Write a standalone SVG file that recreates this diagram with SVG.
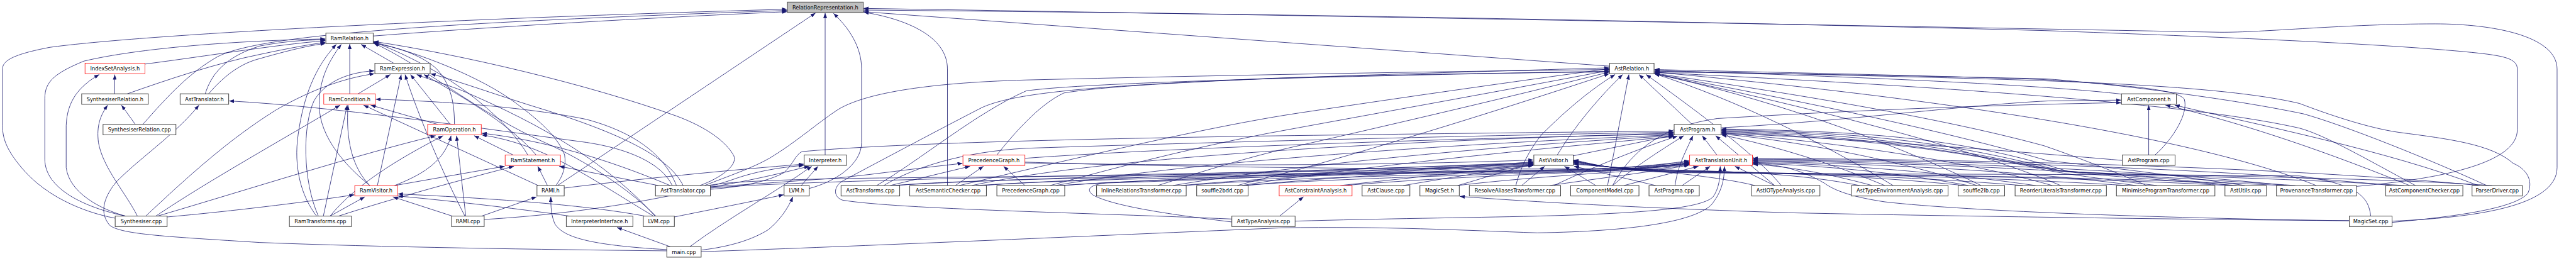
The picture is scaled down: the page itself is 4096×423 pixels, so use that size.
<svg xmlns="http://www.w3.org/2000/svg" width="4096" height="423" viewBox="0 0 4096 423">
<style>
.n rect{fill:#fff;stroke:#404040;stroke-width:1.5}
.n.r rect{stroke:#ff0000;stroke-width:1.2}
.n text{font-family:"DejaVu Sans","Liberation Sans",sans-serif;font-size:12.5px;text-anchor:middle;fill:#000}
#edges path{fill:none;stroke:#191970;stroke-width:1.2;marker-end:url(#a)}
</style>
<defs>
<marker id="a" viewBox="0 0 12 9" refX="12" refY="4.5" markerWidth="12" markerHeight="9" markerUnits="userSpaceOnUse" orient="auto"><path d="M0,0L12,4.5L0,9z" fill="#191970"/></marker>
</defs>
<rect x="0" y="0" width="4096" height="423" fill="#fff"/>
<g transform="scale(0.666)">
<g id="edges">
<path d="M275,521 C190,505 110,465 60,410 C15,360 6,330 6,300 L6,165 C6,145 30,130 119,113 C300,88 900,50 1879,22"/>
<path d="M341,297 C400,230 450,175 520,135 C620,85 1000,55 1879,25"/>
<path d="M891,86 C1200,62 1600,40 1879,28"/>
<path d="M1331,443 L1947,31"/>
<path d="M1970,370 L1970,31"/>
<path d="M1932,450 C1990,435 2057,395 2057,340 L2057,165 C2057,110 2025,65 1990,32"/>
<path d="M2262,443 L2262,165 C2262,85 2160,45 2062,29"/>
<path d="M3843,158 L2062,28"/>
<path d="M5711,528 C5900,520 6105,495 6105,400 L6105,165 C6105,85 5950,57 5814,57 C5600,57 5400,78 5300,77 C4500,62 3000,35 2062,20"/>
<path d="M5626,445 C5850,425 6010,385 6010,310 L6010,165 C6010,140 5980,133 5900,125 C5700,105 5300,88 4880,73 C4000,50 3000,32 2062,24"/>
<path d="M300,516 C200,495 107,450 107,380 L107,235 C107,195 130,175 200,146 C330,115 560,97 777,93"/>
<path d="M346,153 C500,133 650,108 777,97"/>
<path d="M304,224 C400,190 520,150 620,130 C690,115 740,106 777,101"/>
<path d="M490,224 C505,175 540,135 620,110 C680,98 740,95 777,95"/>
<path d="M498,224 C540,175 580,150 620,140 C690,120 740,108 777,104"/>
<path d="M756,516 C720,470 700,400 712,320 C725,230 752,160 803,106"/>
<path d="M883,443 C830,400 762,330 762,250 C762,190 785,145 815,106"/>
<path d="M835,224 L835,105"/>
<path d="M940,151 L862,106"/>
<path d="M1085,297 C1085,250 1078,200 1040,162 C1000,128 940,110 892,104"/>
<path d="M1671,443 C1720,425 1762,395 1752,372 C1735,340 1690,305 1615,277 C1400,200 1100,130 892,99"/>
<path d="M1327,443 C1345,420 1352,395 1348,370 C1330,320 1270,275 1230,245 C1150,185 1000,125 892,101"/>
<path d="M1566,516 C1500,450 1400,385 1300,340 C1150,275 1000,150 892,103"/>
<path d="M1260,370 C1220,300 1100,180 892,100"/>
<path d="M855,224 L932,178"/>
<path d="M1075,297 L980,178"/>
<path d="M901,443 L958,178"/>
<path d="M1110,516 C1060,420 1000,280 967,178"/>
<path d="M760,516 C722,430 722,300 750,240 C780,190 840,172 894,169"/>
<path d="M348,516 C450,420 550,330 660,262 C750,210 830,185 894,176"/>
<path d="M1631,443 C1600,380 1500,325 1300,262 C1200,232 1100,195 1028,176"/>
<path d="M1564,516 C1450,390 1300,300 1100,215 C1060,200 1020,188 995,178"/>
<path d="M1280,370 C1220,300 1120,240 1012,178"/>
<path d="M1045,297 L885,251"/>
<path d="M883,443 C840,400 825,330 831,251"/>
<path d="M772,516 L829,251"/>
<path d="M372,516 C500,430 680,330 812,251"/>
<path d="M1285,443 L868,251"/>
<path d="M1615,443 C1590,380 1530,320 1400,285 C1230,250 1000,240 897,237"/>
<path d="M1605,443 C1580,390 1500,355 1400,340 C1100,300 800,255 547,241"/>
<path d="M1592,599 C1300,596 900,590 620,579 C400,565 290,560 262,538 C238,510 245,475 277,435 C330,380 420,320 475,251"/>
<path d="M274,224 L274,178"/>
<path d="M300,516 C240,500 165,460 158,400 L158,300 C160,240 190,205 237,178"/>
<path d="M328,516 C300,460 245,400 235,340 C230,300 240,275 257,251"/>
<path d="M323,297 L290,251"/>
<path d="M942,443 C1000,420 1060,390 1077,324"/>
<path d="M788,516 C850,440 950,380 1058,324"/>
<path d="M376,516 C600,450 850,370 1040,324"/>
<path d="M1112,516 L1090,324"/>
<path d="M1225,370 L1132,324"/>
<path d="M1600,443 C1450,380 1300,335 1150,318"/>
<path d="M1560,516 C1400,420 1300,345 1150,322"/>
<path d="M942,443 L1205,397"/>
<path d="M808,516 C950,470 1100,430 1227,397"/>
<path d="M1307,443 L1284,397"/>
<path d="M1572,443 L1335,397"/>
<path d="M399,518 C550,505 750,480 846,465"/>
<path d="M788,516 L871,470"/>
<path d="M1080,516 L938,470"/>
<path d="M1540,516 C1400,490 1200,475 950,463"/>
<path d="M1360,516 C1250,500 1100,482 950,468"/>
<path d="M1347,449 C1500,430 1750,405 1919,392"/>
<path d="M1156,524 C1400,510 1650,465 1760,425 C1820,405 1880,398 1919,395"/>
<path d="M1696,447 C1800,430 1870,412 1932,397"/>
<path d="M1647,589 C1740,520 1850,460 1938,397"/>
<path d="M1913,443 L1953,397"/>
<path d="M1610,518 C1700,500 1800,480 1871,465"/>
<path d="M1675,597 C1750,588 1800,570 1835,548 C1862,525 1880,500 1893,470"/>
<path d="M1600,589 L1473,543"/>
<path d="M1150,516 L1281,470"/>
<path d="M1592,596 C1400,585 1345,565 1325,535 C1316,515 1315,495 1315,470"/>
<path d="M1696,446 C1800,440 1900,432 2000,425 C2100,415 2200,400 2298,390"/>
<path d="M2125,443 L2316,397"/>
<path d="M2281,443 L2348,397"/>
<path d="M2447,443 L2396,397"/>
<path d="M1682,443 C1740,420 1800,400 1840,376 C1900,340 1950,295 2000,262 C2060,225 2200,198 2450,191 C2900,180 3400,171 3842,166"/>
<path d="M2093,443 C2200,380 2330,270 2450,217 C2600,195 3300,180 3842,170"/>
<path d="M2941,523 C2600,508 2150,500 2012,478 C1988,470 1990,445 2012,432 C2100,385 2260,300 2344,257 C2420,222 2600,205 3060,186 C3400,176 3700,173 3842,172"/>
<path d="M2380,370 C2420,320 2480,250 2540,222 C2700,195 3200,180 3842,162"/>
<path d="M2290,443 C2600,370 2900,300 3100,270 C3400,225 3650,190 3842,164"/>
<path d="M2507,443 C2700,390 2900,340 3100,305 C3400,250 3650,205 3842,168"/>
<path d="M2764,443 C2900,400 3000,370 3100,348 C3400,280 3650,220 3842,172"/>
<path d="M2954,443 C3000,430 3050,418 3100,405 C3400,320 3650,240 3842,176"/>
<path d="M3718,370 C3760,300 3820,230 3874,178"/>
<path d="M3619,443 C3630,400 3650,360 3680,322 C3740,262 3800,212 3856,178"/>
<path d="M3838,443 L3889,178"/>
<path d="M4040,297 L3913,178"/>
<path d="M4253,443 C4200,380 4100,300 3930,178"/>
<path d="M5068,225 C4900,205 4500,185 3950,168"/>
<path d="M5145,370 C5190,330 5225,270 5215,237 C5200,215 5100,205 4880,190 C4600,180 4200,172 3950,166"/>
<path d="M5711,531 C5850,518 6000,500 6035,462 C6050,430 6030,402 6000,390 C5950,345 5850,332 5727,316 C5650,305 5550,270 5490,247 C5300,202 4900,192 4500,182 C4300,177 4100,172 3950,170"/>
<path d="M5937,443 C5800,380 5600,300 5500,272 C5300,230 5000,196 4880,188 C4500,180 4200,174 3950,172"/>
<path d="M5767,443 C5650,380 5550,322 5490,306 C5200,240 4500,200 3950,173"/>
<path d="M5125,443 C5050,410 4950,372 4880,348 C4600,272 4200,212 3950,175"/>
<path d="M5360,443 C5200,420 5000,395 4890,384 C4600,300 4200,222 3950,176"/>
<path d="M4730,443 C4500,330 4200,230 3950,176"/>
<path d="M4920,443 C4700,350 4300,252 3950,176"/>
<path d="M5530,443 C5300,350 4800,250 3950,172"/>
<path d="M4520,443 C4350,340 4150,240 3950,176"/>
<path d="M1696,452 C1780,446 1840,430 1872,412 C1895,390 1900,368 1915,362 C2100,345 2450,334 3000,325 C3500,318 3800,315 3996,313"/>
<path d="M2110,443 C2180,400 2300,362 2450,354 C3000,336 3700,320 3996,316"/>
<path d="M2320,443 C2600,382 3200,340 3996,318"/>
<path d="M2447,378 C2800,352 3500,330 3996,320"/>
<path d="M2520,443 C2800,392 3400,346 3996,322"/>
<path d="M2800,443 C3100,392 3600,346 3996,324"/>
<path d="M2965,443 C3200,402 3700,352 3996,326"/>
<path d="M3756,372 L3996,323"/>
<path d="M3710,443 C3800,400 3920,352 4005,325"/>
<path d="M4099,370 L4064,324"/>
<path d="M3999,443 C4005,400 4020,370 4042,324"/>
<path d="M3850,443 C3900,400 3960,362 4020,324"/>
<path d="M4237,443 L4096,324"/>
<path d="M4500,443 C4350,380 4200,340 4110,322"/>
<path d="M4720,443 C4500,372 4250,332 4110,320"/>
<path d="M4900,443 C4650,372 4300,332 4110,318"/>
<path d="M5150,443 C5000,425 4900,412 4850,398 C4600,345 4300,322 4110,316"/>
<path d="M5340,443 C5100,425 4950,415 4880,402 C4600,345 4350,320 4110,314"/>
<path d="M5480,443 C5200,424 5000,416 4900,405 C4600,340 4400,318 4110,312"/>
<path d="M5740,443 C5400,422 5050,418 4920,408 C4650,338 4450,316 4110,310"/>
<path d="M5950,443 C5600,420 5100,420 4940,410 C4700,335 4500,314 4110,308"/>
<path d="M5067,383 C4800,360 4400,330 4110,318"/>
<path d="M4110,305 C4400,290 4700,250 4890,241 L5064,239"/>
<path d="M3850,443 C3900,350 3980,300 4100,283 C4400,265 4700,252 5064,245"/>
<path d="M5130,370 L5130,251"/>
<path d="M5753,443 C5500,340 5300,280 5170,251"/>
<path d="M5917,443 C5700,360 5400,300 5192,251"/>
<path d="M1690,443 C1750,432 1900,428 2100,425 C2800,418 3500,410 3800,404 C3900,400 4000,393 4033,390"/>
<path d="M2140,443 C2300,426 3000,418 3800,406 C3930,402 4000,393 4033,388"/>
<path d="M2350,443 C2500,428 3200,416 3800,404 C3930,398 4000,390 4033,386"/>
<path d="M2447,387 C2700,396 3300,406 3800,403 C3930,399 4000,388 4033,384"/>
<path d="M2540,443 C2700,428 3300,414 3800,407 C3930,403 4000,392 4033,389"/>
<path d="M2830,443 C3000,428 3400,416 3800,408 C3930,404 4000,393 4033,390"/>
<path d="M2975,443 C3100,430 3500,418 3800,409 C3930,405 4000,394 4033,391"/>
<path d="M3210,443 C3400,426 3700,414 3850,408 C3950,402 4010,394 4033,392"/>
<path d="M3480,443 C3600,428 3800,414 3900,408 C3980,402 4015,395 4033,393"/>
<path d="M3700,443 C3800,428 3950,410 4033,394"/>
<path d="M3877,443 L4055,397"/>
<path d="M4016,443 L4083,397"/>
<path d="M4237,443 L4142,397"/>
<path d="M1674,601 C2000,590 2500,568 3060,544 C3300,540 3500,550 3670,556 C3900,552 4040,530 4085,490 C4110,460 4117,430 4117,397"/>
<path d="M3092,528 C3300,522 3500,520 3670,516 C3900,510 4060,500 4090,470 C4104,450 4107,425 4107,397"/>
<path d="M5609,527 C5200,522 4700,505 4500,482 C4420,470 4380,455 4355,437 C4300,405 4250,393 4185,390"/>
<path d="M4470,443 C4350,410 4250,396 4185,392"/>
<path d="M4700,443 C4500,406 4300,393 4185,390"/>
<path d="M4860,443 C4600,406 4350,391 4185,388"/>
<path d="M5100,443 C4800,403 4400,389 4185,386"/>
<path d="M5330,443 C5000,404 4500,387 4185,384"/>
<path d="M5460,443 C5100,404 4600,385 4185,382"/>
<path d="M5710,443 C5300,402 4700,383 4185,380"/>
<path d="M5920,443 C5500,402 4800,381 4185,378"/>
<path d="M1696,449 C1900,432 2500,420 3200,408 C3450,402 3600,392 3661,386"/>
<path d="M2130,443 C2400,426 3000,412 3661,390"/>
<path d="M2330,443 C2600,426 3100,410 3661,388"/>
<path d="M2447,389 C2800,396 3300,396 3661,382"/>
<path d="M2530,443 C2800,426 3200,411 3661,392"/>
<path d="M2820,443 C3000,426 3300,411 3661,394"/>
<path d="M2970,443 C3150,426 3400,411 3661,395"/>
<path d="M2941,530 C2800,513 2660,493 2610,466 C2590,451 2605,441 2640,437 C3000,426 3400,405 3661,390"/>
<path d="M3200,443 C3350,426 3550,406 3661,393"/>
<path d="M3350,443 C3450,426 3570,406 3661,395"/>
<path d="M3480,443 C3560,420 3620,400 3661,392"/>
<path d="M3633,443 L3688,397"/>
<path d="M3810,443 L3735,397"/>
<path d="M3953,443 L3758,397"/>
<path d="M4190,443 C4100,420 3900,402 3757,392"/>
<path d="M4440,443 C4300,415 4150,410 4000,406 C3850,402 3790,394 3757,390"/>
<path d="M4690,443 C4450,418 4200,412 4000,407 C3850,403 3790,393 3757,388"/>
<path d="M4830,443 C4550,420 4250,413 4000,408 C3850,404 3790,392 3757,386"/>
<path d="M5080,443 C4700,420 4300,414 4000,409 C3850,405 3790,391 3757,385"/>
<path d="M5320,443 C4900,420 4350,415 4000,410 C3850,406 3790,390 3757,384"/>
<path d="M5450,443 C5000,420 4400,416 4000,411 C3850,407 3790,389 3757,383"/>
<path d="M5660,516 C5655,470 5630,440 5490,420 C5000,415 4400,417 4000,412 C3850,408 3790,388 3757,382"/>
<path d="M3055,516 L3112,470"/>
<path d="M5609,527 C5200,524 4600,515 4270,508 C3900,496 3660,482 3485,469"/>
</g>
<g id="n-RelationRepresentation" class="n"><rect x="1880" y="5" width="181" height="25" style="fill:#bfbfbf"/><text x="1970.5" y="22">RelationRepresentation.h</text></g>
<g id="n-RamRelation" class="n"><rect x="778" y="79" width="113" height="25"/><text x="834.5" y="96">RamRelation.h</text></g>
<g id="n-IndexSetAnalysis" class="n r"><rect x="203" y="151" width="143" height="25"/><text x="274.5" y="168">IndexSetAnalysis.h</text></g>
<g id="n-RamExpression" class="n"><rect x="895" y="151" width="132" height="25"/><text x="961" y="168">RamExpression.h</text></g>
<g id="n-AstRelation" class="n"><rect x="3843" y="151" width="106" height="25"/><text x="3896" y="168">AstRelation.h</text></g>
<g id="n-SynthesiserRelationH" class="n"><rect x="195" y="224" width="159" height="25"/><text x="274.5" y="241">SynthesiserRelation.h</text></g>
<g id="n-AstTranslatorH" class="n"><rect x="430" y="224" width="116" height="25"/><text x="488" y="241">AstTranslator.h</text></g>
<g id="n-RamCondition" class="n r"><rect x="773" y="224" width="123" height="25"/><text x="834.5" y="241">RamCondition.h</text></g>
<g id="n-AstComponent" class="n"><rect x="5065" y="224" width="131" height="25"/><text x="5130.5" y="241">AstComponent.h</text></g>
<g id="n-SynthesiserRelationCpp" class="n"><rect x="246" y="297" width="174" height="25"/><text x="333" y="314">SynthesiserRelation.cpp</text></g>
<g id="n-RamOperation" class="n r"><rect x="1021" y="297" width="128" height="25"/><text x="1085" y="314">RamOperation.h</text></g>
<g id="n-AstProgramH" class="n"><rect x="3997" y="297" width="112" height="25"/><text x="4053" y="314">AstProgram.h</text></g>
<g id="n-RamStatement" class="n r"><rect x="1206" y="370" width="132" height="25"/><text x="1272" y="387">RamStatement.h</text></g>
<g id="n-Interpreter" class="n"><rect x="1920" y="370" width="101" height="25"/><text x="1970.5" y="387">Interpreter.h</text></g>
<g id="n-PrecedenceGraphH" class="n r"><rect x="2299" y="370" width="148" height="25"/><text x="2373" y="387">PrecedenceGraph.h</text></g>
<g id="n-AstVisitor" class="n"><rect x="3662" y="370" width="94" height="25"/><text x="3709" y="387">AstVisitor.h</text></g>
<g id="n-AstTranslationUnit" class="n r"><rect x="4034" y="370" width="150" height="25"/><text x="4109" y="387">AstTranslationUnit.h</text></g>
<g id="n-AstProgramCpp" class="n"><rect x="5067" y="370" width="126" height="25"/><text x="5130" y="387">AstProgram.cpp</text></g>
<g id="n-RamVisitor" class="n r"><rect x="847" y="443" width="102" height="25"/><text x="898" y="460">RamVisitor.h</text></g>
<g id="n-RAMIH" class="n"><rect x="1282" y="443" width="65" height="25"/><text x="1314.5" y="460">RAMI.h</text></g>
<g id="n-AstTranslatorCpp" class="n"><rect x="1565" y="443" width="131" height="25"/><text x="1630.5" y="460">AstTranslator.cpp</text></g>
<g id="n-LVMH" class="n"><rect x="1872" y="443" width="60" height="25"/><text x="1902" y="460">LVM.h</text></g>
<g id="n-AstTransforms" class="n"><rect x="2008" y="443" width="140" height="25"/><text x="2078" y="460">AstTransforms.cpp</text></g>
<g id="n-AstSemanticChecker" class="n"><rect x="2172" y="443" width="183" height="25"/><text x="2263.5" y="460">AstSemanticChecker.cpp</text></g>
<g id="n-PrecedenceGraphCpp" class="n"><rect x="2380" y="443" width="162" height="25"/><text x="2461" y="460">PrecedenceGraph.cpp</text></g>
<g id="n-InlineRelationsTransformer" class="n"><rect x="2618" y="443" width="214" height="25"/><text x="2725" y="460">InlineRelationsTransformer.cpp</text></g>
<g id="n-souffle2bdd" class="n"><rect x="2857" y="443" width="123" height="25"/><text x="2918.5" y="460">souffle2bdd.cpp</text></g>
<g id="n-AstConstraintAnalysis" class="n r"><rect x="3054" y="443" width="174" height="25"/><text x="3141" y="460">AstConstraintAnalysis.h</text></g>
<g id="n-AstClause" class="n"><rect x="3252" y="443" width="114" height="25"/><text x="3309" y="460">AstClause.cpp</text></g>
<g id="n-MagicSetH" class="n"><rect x="3390" y="443" width="94" height="25"/><text x="3437" y="460">MagicSet.h</text></g>
<g id="n-ResolveAliasesTransformer" class="n"><rect x="3508" y="443" width="218" height="25"/><text x="3617" y="460">ResolveAliasesTransformer.cpp</text></g>
<g id="n-ComponentModel" class="n"><rect x="3750" y="443" width="163" height="25"/><text x="3831.5" y="460">ComponentModel.cpp</text></g>
<g id="n-AstPragma" class="n"><rect x="3937" y="443" width="120" height="25"/><text x="3997" y="460">AstPragma.cpp</text></g>
<g id="n-AstIOTypeAnalysis" class="n"><rect x="4182" y="443" width="163" height="25"/><text x="4263.5" y="460">AstIOTypeAnalysis.cpp</text></g>
<g id="n-AstTypeEnvironmentAnalysis" class="n"><rect x="4420" y="443" width="231" height="25"/><text x="4535.5" y="460">AstTypeEnvironmentAnalysis.cpp</text></g>
<g id="n-souffle2lb" class="n"><rect x="4675" y="443" width="111" height="25"/><text x="4730.5" y="460">souffle2lb.cpp</text></g>
<g id="n-ReorderLiteralsTransformer" class="n"><rect x="4811" y="443" width="218" height="25"/><text x="4920" y="460">ReorderLiteralsTransformer.cpp</text></g>
<g id="n-MinimiseProgramTransformer" class="n"><rect x="5053" y="443" width="235" height="25"/><text x="5170.5" y="460">MinimiseProgramTransformer.cpp</text></g>
<g id="n-AstUtils" class="n"><rect x="5312" y="443" width="99" height="25"/><text x="5361.5" y="460">AstUtils.cpp</text></g>
<g id="n-ProvenanceTransformer" class="n"><rect x="5435" y="443" width="191" height="25"/><text x="5530.5" y="460">ProvenanceTransformer.cpp</text></g>
<g id="n-AstComponentChecker" class="n"><rect x="5696" y="443" width="184" height="25"/><text x="5788" y="460">AstComponentChecker.cpp</text></g>
<g id="n-ParserDriver" class="n"><rect x="5902" y="443" width="120" height="25"/><text x="5962" y="460">ParserDriver.cpp</text></g>
<g id="n-Synthesiser" class="n"><rect x="275" y="516" width="124" height="25"/><text x="337" y="533">Synthesiser.cpp</text></g>
<g id="n-RamTransforms" class="n"><rect x="691" y="516" width="148" height="25"/><text x="765" y="533">RamTransforms.cpp</text></g>
<g id="n-RAMICpp" class="n"><rect x="1078" y="516" width="78" height="25"/><text x="1117" y="533">RAMI.cpp</text></g>
<g id="n-InterpreterInterface" class="n"><rect x="1352" y="516" width="159" height="25"/><text x="1431.5" y="533">InterpreterInterface.h</text></g>
<g id="n-LVMCpp" class="n"><rect x="1536" y="516" width="74" height="25"/><text x="1573" y="533">LVM.cpp</text></g>
<g id="n-AstTypeAnalysis" class="n"><rect x="2941" y="516" width="151" height="25"/><text x="3016.5" y="533">AstTypeAnalysis.cpp</text></g>
<g id="n-MagicSetCpp" class="n"><rect x="5609" y="516" width="102" height="25"/><text x="5660" y="533">MagicSet.cpp</text></g>
<g id="n-main" class="n"><rect x="1592" y="589" width="82" height="25"/><text x="1633" y="606">main.cpp</text></g>
</g>
</svg>
